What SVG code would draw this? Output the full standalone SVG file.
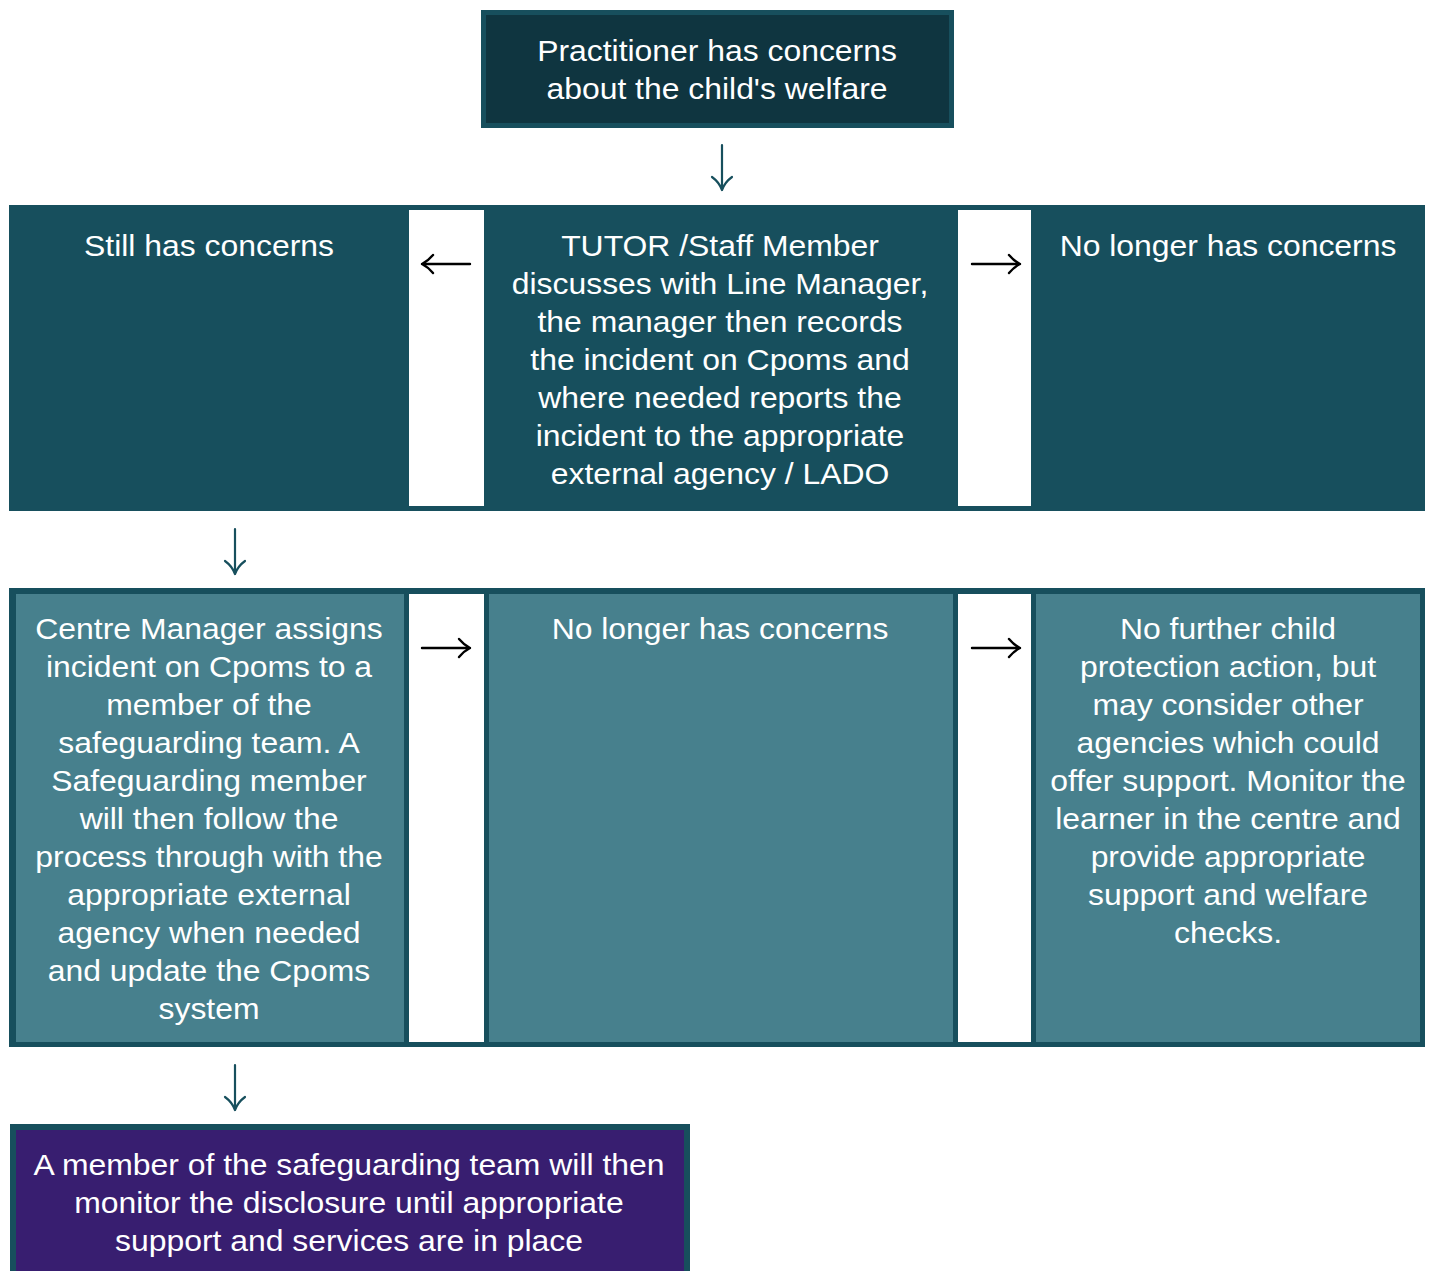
<svg xmlns="http://www.w3.org/2000/svg" width="1429" height="1271" viewBox="0 0 1429 1271">
<style>
.bd{fill:#174f5d}
.dark{fill:#0f3540}
.mid{fill:#174f5d}
.light{fill:#47808d}
.purp{fill:#381e70}
.wh{fill:#ffffff}
.t{font-family:"Liberation Sans",Arial,sans-serif;font-size:29px;fill:#ffffff;text-anchor:middle}
.dn{fill:none;stroke:#174f5d;stroke-width:2.2;stroke-linecap:round;stroke-linejoin:round}
.hz{fill:none;stroke:#000000;stroke-width:2.4;stroke-linecap:round;stroke-linejoin:round}
</style>
<rect width="1429" height="1271" fill="#ffffff"/>

<g id="node-practitioner">
<rect class="bd" x="481" y="10" width="473" height="118"/>
<rect class="dark" x="486" y="15" width="463" height="108"/>
<text class="t" transform="translate(717,0) scale(1.1,1)"><tspan x="0" y="61">Practitioner has concerns</tspan><tspan x="0" y="99">about the child's welfare</tspan></text>
</g>

<g id="row1">
<rect class="mid" x="9" y="205" width="1416" height="306"/>
<rect class="wh" x="409" y="210" width="75" height="296"/>
<rect class="wh" x="958" y="210" width="73" height="296"/>
</g>

<g id="node-still-concerns">
<text class="t" transform="translate(209,0) scale(1.1,1)"><tspan x="0" y="256">Still has concerns</tspan></text>
</g>

<g id="node-tutor">
<text class="t" transform="translate(720,0) scale(1.1,1)"><tspan x="0" y="256">TUTOR /Staff Member</tspan><tspan x="0" y="294">discusses with Line Manager,</tspan><tspan x="0" y="332">the manager then records</tspan><tspan x="0" y="370">the incident on Cpoms and</tspan><tspan x="0" y="408">where needed reports the</tspan><tspan x="0" y="446">incident to the appropriate</tspan><tspan x="0" y="484">external agency / LADO</tspan></text>
</g>

<g id="node-no-longer-1">
<text class="t" transform="translate(1228,0) scale(1.1,1)"><tspan x="0" y="256">No longer has concerns</tspan></text>
</g>

<g id="row2">
<rect class="bd" x="9" y="588" width="1416" height="459"/>
<rect class="light" x="16" y="594" width="388" height="448"/>
<rect class="wh" x="409" y="594" width="75" height="448"/>
<rect class="light" x="489" y="594" width="464" height="448"/>
<rect class="wh" x="958" y="594" width="73" height="448"/>
<rect class="light" x="1036" y="594" width="384" height="448"/>
</g>

<g id="node-centre-manager">
<text class="t" transform="translate(209,0) scale(1.1,1)"><tspan x="0" y="639">Centre Manager assigns</tspan><tspan x="0" y="677">incident on Cpoms to a</tspan><tspan x="0" y="715">member of the</tspan><tspan x="0" y="753">safeguarding team. A</tspan><tspan x="0" y="791">Safeguarding member</tspan><tspan x="0" y="829">will then follow the</tspan><tspan x="0" y="867">process through with the</tspan><tspan x="0" y="905">appropriate external</tspan><tspan x="0" y="943">agency when needed</tspan><tspan x="0" y="981">and update the Cpoms</tspan><tspan x="0" y="1019">system</tspan></text>
</g>

<g id="node-no-longer-2">
<text class="t" transform="translate(720,0) scale(1.1,1)"><tspan x="0" y="639">No longer has concerns</tspan></text>
</g>

<g id="node-no-further">
<text class="t" transform="translate(1228,0) scale(1.1,1)"><tspan x="0" y="639">No further child</tspan><tspan x="0" y="677">protection action, but</tspan><tspan x="0" y="715">may consider other</tspan><tspan x="0" y="753">agencies which could</tspan><tspan x="0" y="791">offer support. Monitor the</tspan><tspan x="0" y="829">learner in the centre and</tspan><tspan x="0" y="867">provide appropriate</tspan><tspan x="0" y="905">support and welfare</tspan><tspan x="0" y="943">checks.</tspan></text>
</g>

<g id="node-monitor">
<rect class="bd" x="10" y="1124" width="680" height="152"/>
<rect class="purp" x="16" y="1130" width="668" height="146"/>
<text class="t" transform="translate(349,0) scale(1.1,1)"><tspan x="0" y="1175">A member of the safeguarding team will then</tspan><tspan x="0" y="1213">monitor the disclosure until appropriate</tspan><tspan x="0" y="1251">support and services are in place</tspan></text>
</g>

<g id="connectors">
<path class="dn" d="M722 145 V190 M712 177 Q719 182 722 190 Q725 182 732 177"/>
<path class="dn" d="M235 529 V574 M225 561 Q232 566 235 574 Q238 566 245 561"/>
<path class="dn" d="M235 1065 V1110 M225 1097 Q232 1102 235 1110 Q238 1102 245 1097"/>
<path class="hz" d="M470 264 H422 M433 255 Q428 261 422 264 Q428 267 433 273"/>
<path class="hz" d="M972 264 H1020 M1009 255 Q1014 261 1020 264 Q1014 267 1009 273"/>
<path class="hz" d="M422 648 H470 M459 639 Q464 645 470 648 Q464 651 459 657"/>
<path class="hz" d="M972 648 H1020 M1009 639 Q1014 645 1020 648 Q1014 651 1009 657"/>
</g>
</svg>
